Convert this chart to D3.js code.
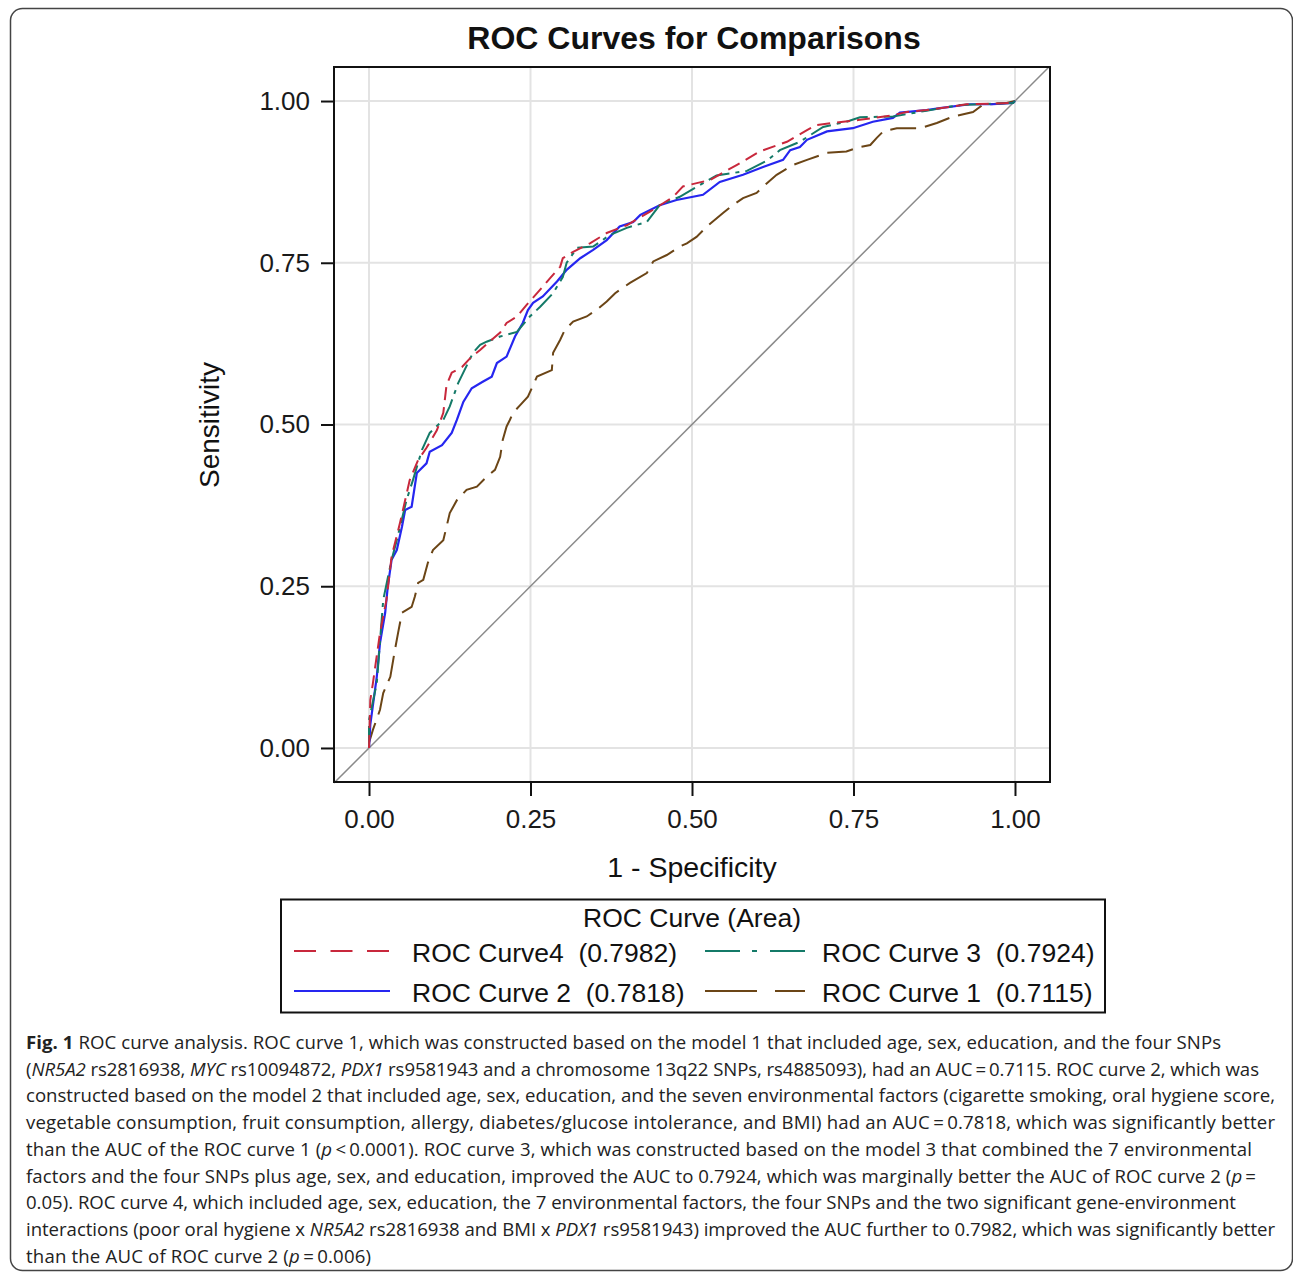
<!DOCTYPE html>
<html><head><meta charset="utf-8">
<script src="https://cdn.jsdelivr.net/npm/d3@7"></script>
<style>
html,body{margin:0;padding:0;background:#fff;}
svg{display:block;}
</style></head>
<body>
<svg id="chart" width="1293" height="1272"></svg>
<script>
// ---------- DATA ----------
const xTicks = [0, 0.25, 0.5, 0.75, 1];
const yTicks = [0, 0.25, 0.5, 0.75, 1];
const xTickLabels = ["0.00", "0.25", "0.50", "0.75", "1.00"];
const yTickLabels = ["0.00", "0.25", "0.50", "0.75", "1.00"];

// ROC Curve 4 (red, dashed) [1-specificity, sensitivity]
const curve4 = [[0,0],[0.002,0.074],[0.006,0.100],[0.017,0.178],[0.027,0.229],[0.035,0.296],[0.048,0.348],[0.063,0.414],[0.076,0.445],[0.089,0.464],[0.105,0.491],[0.115,0.518],[0.120,0.561],[0.128,0.580],[0.144,0.589],[0.159,0.605],[0.172,0.615],[0.190,0.631],[0.203,0.642],[0.213,0.657],[0.229,0.667],[0.244,0.685],[0.254,0.696],[0.269,0.713],[0.280,0.726],[0.296,0.744],[0.300,0.757],[0.316,0.767],[0.342,0.780],[0.368,0.796],[0.399,0.808],[0.435,0.829],[0.471,0.852],[0.486,0.868],[0.528,0.878],[0.569,0.901],[0.605,0.922],[0.647,0.937],[0.678,0.955],[0.693,0.963],[0.734,0.968],[0.760,0.971],[0.811,0.978],[0.832,0.983],[0.863,0.986],[0.899,0.991],[0.925,0.995],[0.997,0.997],[1,1]];

// ROC Curve 3 (teal, dash-dot)
const curve3 = [[0,0],[0.000,0.043],[0.012,0.100],[0.022,0.229],[0.035,0.291],[0.043,0.321],[0.058,0.383],[0.068,0.414],[0.082,0.461],[0.094,0.487],[0.115,0.507],[0.125,0.528],[0.138,0.564],[0.161,0.611],[0.172,0.623],[0.182,0.628],[0.203,0.636],[0.229,0.643],[0.249,0.667],[0.265,0.682],[0.285,0.703],[0.300,0.728],[0.306,0.750],[0.322,0.773],[0.347,0.775],[0.373,0.793],[0.399,0.804],[0.430,0.813],[0.450,0.839],[0.481,0.852],[0.538,0.885],[0.585,0.892],[0.616,0.908],[0.636,0.924],[0.667,0.937],[0.703,0.960],[0.739,0.968],[0.760,0.975],[0.811,0.976],[0.863,0.985],[0.915,0.994],[0.997,0.997],[1,1]];

// ROC Curve 2 (blue, solid)
const curve2 = [[0,0],[0.002,0.036],[0.012,0.110],[0.017,0.162],[0.025,0.209],[0.029,0.249],[0.035,0.291],[0.043,0.306],[0.051,0.342],[0.056,0.368],[0.066,0.373],[0.074,0.425],[0.089,0.440],[0.094,0.458],[0.113,0.468],[0.128,0.487],[0.136,0.507],[0.146,0.535],[0.159,0.556],[0.176,0.566],[0.190,0.574],[0.198,0.595],[0.213,0.605],[0.226,0.636],[0.238,0.657],[0.246,0.677],[0.254,0.688],[0.269,0.698],[0.291,0.721],[0.306,0.739],[0.327,0.757],[0.347,0.770],[0.368,0.785],[0.388,0.806],[0.409,0.813],[0.420,0.824],[0.450,0.839],[0.476,0.847],[0.517,0.855],[0.543,0.875],[0.579,0.886],[0.610,0.898],[0.641,0.909],[0.652,0.924],[0.667,0.929],[0.678,0.940],[0.709,0.953],[0.749,0.958],[0.780,0.968],[0.811,0.974],[0.822,0.982],[0.863,0.986],[0.884,0.989],[0.930,0.995],[0.966,0.995],[0.997,0.997],[1,1]];

// ROC Curve 1 (brown, long dash)
const curve1 = [[0,0],[0,0.008],[0.006,0.028],[0.017,0.059],[0.022,0.085],[0.033,0.110],[0.040,0.151],[0.045,0.178],[0.051,0.209],[0.066,0.218],[0.071,0.234],[0.076,0.255],[0.084,0.260],[0.091,0.286],[0.099,0.306],[0.115,0.321],[0.120,0.342],[0.125,0.363],[0.136,0.383],[0.151,0.399],[0.167,0.404],[0.182,0.419],[0.195,0.430],[0.203,0.450],[0.207,0.476],[0.213,0.497],[0.218,0.507],[0.223,0.518],[0.234,0.530],[0.246,0.543],[0.260,0.574],[0.283,0.584],[0.285,0.611],[0.296,0.631],[0.303,0.646],[0.316,0.659],[0.337,0.667],[0.352,0.677],[0.368,0.690],[0.381,0.703],[0.404,0.719],[0.430,0.734],[0.440,0.752],[0.461,0.762],[0.481,0.775],[0.492,0.780],[0.507,0.790],[0.523,0.806],[0.548,0.827],[0.563,0.839],[0.579,0.850],[0.600,0.858],[0.616,0.873],[0.631,0.886],[0.656,0.901],[0.678,0.909],[0.709,0.920],[0.739,0.922],[0.760,0.929],[0.776,0.932],[0.786,0.943],[0.796,0.953],[0.817,0.958],[0.853,0.958],[0.879,0.966],[0.904,0.976],[0.935,0.983],[0.950,0.994],[0.987,0.997],[1,1]];

const seriesNames = ["ROC Curve4  (0.7982)", "ROC Curve 3  (0.7924)", "ROC Curve 2  (0.7818)", "ROC Curve 1  (0.7115)"];

const captionLines = [
  [["b","Fig. 1"],["n"," ROC curve analysis. ROC curve 1, which was constructed based on the model 1 that included age, sex, education, and the four SNPs"]],
  [["n","("],["i","NR5A2"],["n"," rs2816938, "],["i","MYC"],["n"," rs10094872, "],["i","PDX1"],["n"," rs9581943 and a chromosome 13q22 SNPs, rs4885093), had an AUC\u2009=\u20090.7115. ROC curve 2, which was"]],
  [["n","constructed based on the model 2 that included age, sex, education, and the seven environmental factors (cigarette smoking, oral hygiene score,"]],
  [["n","vegetable consumption, fruit consumption, allergy, diabetes/glucose intolerance, and BMI) had an AUC\u2009=\u20090.7818, which was significantly better"]],
  [["n","than the AUC of the ROC curve 1 ("],["i","p"],["n","\u2009<\u20090.0001). ROC curve 3, which was constructed based on the model 3 that combined the 7 environmental"]],
  [["n","factors and the four SNPs plus age, sex, and education, improved the AUC to 0.7924, which was marginally better the AUC of ROC curve 2 ("],["i","p"],["n","\u2009="]],
  [["n","0.05). ROC curve 4, which included age, sex, education, the 7 environmental factors, the four SNPs and the two significant gene-environment"]],
  [["n","interactions (poor oral hygiene x "],["i","NR5A2"],["n"," rs2816938 and BMI x "],["i","PDX1"],["n"," rs9581943) improved the AUC further to 0.7982, which was significantly better"]],
  [["n","than the AUC of ROC curve 2 ("],["i","p"],["n","\u2009=\u20090.006)"]]
];
const captionWidths = [1195, 1233, 1249, 1249, 1226, 1230, 1210, 1249, 345];

// ---------- LAYOUT / STYLE ----------
const svg = d3.select("#chart");
const L = 334, R = 1050, T = 67, B = 782;
const x = d3.scaleLinear().domain([-0.0542, 1.0542]).range([L, R]);
const y = d3.scaleLinear().domain([-0.0526, 1.0526]).range([B, T]);

const styles = [
  {data: curve4, color: "#c8283c", dash: "13,7", legDash: "22,14.5", width: 2},
  {data: curve3, color: "#147a68", dash: "22,6,4,6", legDash: "35,12,5,13", width: 2},
  {data: curve2, color: "#2626f0", dash: null, legDash: null, width: 2.2},
  {data: curve1, color: "#6b4516", dash: "26,9", legDash: "52,18", width: 2}
];
const font = "'Liberation Sans', Arial, sans-serif";

// outer frame
svg.append("rect").attr("x", 10.5).attr("y", 8.5).attr("width", 1282).attr("height", 1262)
  .attr("rx", 12).attr("fill", "none").attr("stroke", "#444").attr("stroke-width", 1.5);

// title
svg.append("text").attr("x", 694).attr("y", 49).attr("text-anchor", "middle")
  .attr("font-family", font).attr("font-weight", "bold").attr("font-size", 32).attr("fill", "#111")
  .text("ROC Curves for Comparisons");

// grid
const g = svg.append("g");
g.selectAll("line.gx").data(xTicks).join("line")
  .attr("x1", d => x(d)).attr("x2", d => x(d)).attr("y1", T).attr("y2", B)
  .attr("stroke", "#e3e3e3").attr("stroke-width", 2);
g.selectAll("line.gy").data(yTicks).join("line")
  .attr("y1", d => y(d)).attr("y2", d => y(d)).attr("x1", L).attr("x2", R)
  .attr("stroke", "#e3e3e3").attr("stroke-width", 2);

// diagonal reference
svg.append("line").attr("x1", x(-0.0542)).attr("y1", y(-0.0542)).attr("x2", x(1.0526)).attr("y2", y(1.0526))
  .attr("stroke", "#8a8a8a").attr("stroke-width", 1.5);

// curves
const line = d3.line().x(d => x(d[0])).y(d => y(d[1]));
[styles[3], styles[2], styles[1], styles[0]].forEach(s => {
  svg.append("path").datum(s.data).attr("d", line)
    .attr("fill", "none").attr("stroke", s.color).attr("stroke-width", s.width)
    .attr("stroke-dasharray", s.dash).attr("stroke-linejoin", "miter");
});

// axes
const xAxis = d3.axisBottom(x).tickValues(xTicks).tickFormat((d, i) => xTickLabels[i]).tickSize(14).tickSizeOuter(0).tickPadding(14);
const yAxis = d3.axisLeft(y).tickValues(yTicks).tickFormat((d, i) => yTickLabels[i]).tickSize(13).tickSizeOuter(0).tickPadding(11);
const gx = svg.append("g").attr("transform", `translate(0,${B})`).call(xAxis);
const gy = svg.append("g").attr("transform", `translate(${L},0)`).call(yAxis);
[gx, gy].forEach(a => {
  a.select(".domain").remove();
  a.selectAll(".tick line").attr("stroke", "#111").attr("stroke-width", 2);
  a.selectAll(".tick text").attr("font-family", font).attr("font-size", 26).attr("fill", "#1a1a1a");
});
// plot frame
svg.append("rect").attr("x", L).attr("y", T).attr("width", R - L).attr("height", B - T)
  .attr("fill", "none").attr("stroke", "#111").attr("stroke-width", 2);

// axis titles
svg.append("text").attr("x", 692).attr("y", 877).attr("text-anchor", "middle")
  .attr("font-family", font).attr("font-size", 28.5).attr("fill", "#111").text("1 - Specificity");
svg.append("text").attr("transform", "translate(219,425) rotate(-90)").attr("text-anchor", "middle")
  .attr("font-family", font).attr("font-size", 28).attr("fill", "#111").text("Sensitivity");

// legend
svg.append("rect").attr("x", 281).attr("y", 899.5).attr("width", 824).attr("height", 113)
  .attr("fill", "#fff").attr("stroke", "#111").attr("stroke-width", 2);
svg.append("text").attr("x", 692).attr("y", 927).attr("text-anchor", "middle")
  .attr("font-family", font).attr("font-size", 26.5).attr("fill", "#111").text("ROC Curve (Area)");
const legPos = [
  {lx: 294, tx: 412, ly: 951, ty: 962},
  {lx: 705, tx: 822, ly: 951, ty: 962},
  {lx: 294, tx: 412, ly: 991, ty: 1002},
  {lx: 705, tx: 822, ly: 991, ty: 1002}
];
styles.forEach((s, i) => {
  const p = legPos[i];
  svg.append("line").attr("x1", p.lx).attr("x2", p.lx + (i % 2 === 0 ? 96 : 100)).attr("y1", p.ly).attr("y2", p.ly)
    .attr("stroke", s.color).attr("stroke-width", 2).attr("stroke-dasharray", s.legDash);
  svg.append("text").attr("x", p.tx).attr("y", p.ty).attr("font-family", font).attr("font-size", 26.5)
    .attr("fill", "#111").style("white-space", "pre").text(seriesNames[i]);
});

// caption
const cap = svg.append("g").attr("font-family", "'Open Sans', 'Noto Sans', sans-serif").attr("font-size", 18.6).attr("fill", "#222");
captionLines.forEach((ln, i) => {
  const t = cap.append("text").attr("x", 26).attr("y", 1049 + i * 26.7)
    .attr("textLength", captionWidths[i]).attr("lengthAdjust", "spacing").style("white-space", "pre");
  ln.forEach(([k, s]) => {
    const sp = t.append("tspan").text(s);
    if (k === "b") sp.attr("font-weight", "bold");
    if (k === "i") sp.attr("font-style", "italic");
  });
});
</script>
</body></html>
